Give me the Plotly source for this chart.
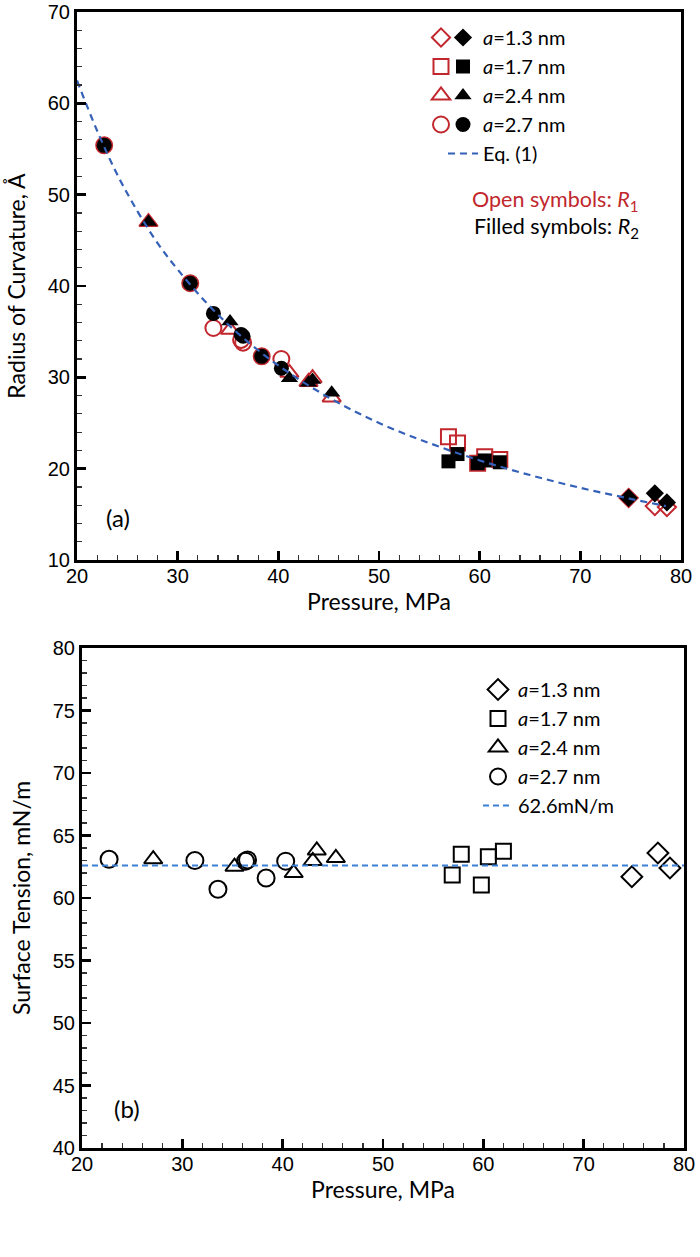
import plotly.graph_objects as go

# ---------------- data ----------------
# a = 1.3 nm (diamonds)
P_13 = [74.8, 77.4, 78.6]
R1_13 = [16.8, 15.9, 15.8]
R2_13 = [16.8, 17.3, 16.3]
ST_13 = [61.7, 63.6, 62.4]

# a = 1.7 nm (squares)
P_17 = [56.9, 57.8, 59.8, 60.5, 62.0]
R1_17 = [23.5, 22.8, 20.6, 21.3, 21.0]
R2_17 = [20.8, 21.6, 20.6, 20.9, 20.7]
ST_17 = [61.85, 63.5, 61.05, 63.3, 63.75]

# a = 2.4 nm (triangles)
P_24 = [27.1, 35.2, 41.1, 43.0, 43.4, 45.3]
R1_24 = [47.0, 35.2, 30.5, 29.5, 29.9, 27.8]
R2_24 = [47.0, 36.1, 29.9, 29.4, 29.7, 28.3]
ST_24 = [63.1, 62.5, 62.0, 62.96, 63.8, 63.2]

# a = 2.7 nm (circles)
P_27 = [22.7, 31.25, 33.55, 36.3, 36.5, 38.35, 40.3]
R1_27 = [55.4, 40.3, 35.4, 34.1, 33.8, 32.3, 32.0]
R2_27 = [55.4, 40.3, 37.0, 34.7, 34.5, 32.3, 31.0]
ST_27 = [63.1, 63.0, 60.7, 62.95, 63.05, 61.6, 62.95]

# Eq. (1) curve
P_eq = [20, 22, 24, 26, 28, 30, 33, 36, 40, 45, 50, 55, 60, 65, 70, 75, 78.5]
R_eq = [62.5, 57.0, 52.2, 48.2, 44.7, 41.8, 38.0, 34.8, 31.3, 27.8, 25.0, 22.8, 20.9, 19.3, 17.9, 16.7, 15.9]

# mean surface tension line
P_mean = [20, 80]
ST_mean = [62.6, 62.6]

labels = ["<i>a</i>=1.3 nm", "<i>a</i>=1.7 nm", "<i>a</i>=2.4 nm", "<i>a</i>=2.7 nm"]

# ---------------- style ----------------
RED = "#c1272d"
BLUE_A = "#3560b8"
BLUE_B = "#3b80d4"
TICKFONT = dict(family="Liberation Sans Narrow, Liberation Sans, Arial", size=20, color="black")
TITLEFONT = dict(family="Lato, Open Sans, sans-serif", size=23, color="black")
LEGFONT = dict(family="Lato, Open Sans, sans-serif", size=20, color="black")

W, H = 700, 1257
def fx(px):
    return px / W
def fy(py):
    return 1 - py / H

fig = go.Figure()

groups = [
    (P_13, R1_13, R2_13, ST_13, "diamond", 14, 14, 16),
    (P_17, R1_17, R2_17, ST_17, "square", 15, 14, 15),
    (P_24, R1_24, R2_24, ST_24, "triangle-up", 16, 15, 16),
    (P_27, R1_27, R2_27, ST_27, "circle", 16, 15, 17),
]

# top panel: open (R1) and filled (R2)
for (P, R1, R2, ST, sym, s_open, s_fill, s_b), lab in zip(groups, labels):
    fig.add_trace(go.Scatter(
        x=P, y=R1, mode="markers", name=" ",
        marker=dict(symbol=sym + "-open", size=s_open, color=RED, line=dict(width=2, color=RED)),
        xaxis="x", yaxis="y", legend="legend", showlegend=True))
for (P, R1, R2, ST, sym, s_open, s_fill, s_b), lab in zip(groups, labels):
    fig.add_trace(go.Scatter(
        x=P, y=R2, mode="markers", name=lab,
        marker=dict(symbol=sym, size=s_fill, color="black", line=dict(width=0)),
        xaxis="x", yaxis="y", legend="legend2", showlegend=True))

fig.add_trace(go.Scatter(
    x=P_eq, y=R_eq, mode="lines", name="Eq. (1)", line_shape="spline",
    line=dict(color=BLUE_A, width=2.2, dash="7px,5px"),
    xaxis="x", yaxis="y", legend="legend2"))

# bottom panel
for (P, R1, R2, ST, sym, s_open, s_fill, s_b), lab in zip(groups, labels):
    fig.add_trace(go.Scatter(
        x=P, y=ST, mode="markers", name=lab,
        marker=dict(symbol=sym + "-open", size=s_b, color="black", line=dict(width=2, color="black")),
        xaxis="x2", yaxis="y2", legend="legend3"))
fig.add_trace(go.Scatter(
    x=P_mean, y=ST_mean, mode="lines", name="62.6mN/m",
    line=dict(color=BLUE_B, width=2, dash="6px,4px"),
    xaxis="x2", yaxis="y2", legend="legend3"))


def axis(rng, dtick, mdtick, domain, anchor, title=None, standoff=0, side=None,
         overlaying=None, labels=True, lab_off=0):
    d = dict(
        range=rng, domain=domain, anchor=anchor, dtick=dtick, tick0=rng[0],
        ticks="inside", ticklen=9, tickwidth=2.5, tickcolor="black",
        showline=True, linewidth=3, linecolor="black", mirror=True,
        showgrid=False, zeroline=False, tickfont=TICKFONT, automargin=False,
        showticklabels=labels, fixedrange=True, ticklabelstandoff=lab_off,
        minor=dict(dtick=mdtick, tick0=rng[0], ticks="inside", ticklen=5, tickwidth=1.2,
                   tickcolor="#333", showgrid=False),
    )
    if title:
        d["title"] = dict(text=title, font=TITLEFONT, standoff=standoff)
    if side:
        d["side"] = side
    if overlaying:
        d["overlaying"] = overlaying
    return d

top_x = [fx(77), fx(681)]
top_y = [fy(560), fy(12)]
bot_x = [fx(82), fx(684)]
bot_y = [fy(1148), fy(648)]

fig.update_layout(
    width=W, height=H,
    margin=dict(l=0, r=0, t=0, b=0, autoexpand=False),
    paper_bgcolor="white", plot_bgcolor="white",
    xaxis=axis([20, 80], 10, 2, top_x, "y", "Pressure, MPa", 6, lab_off=-4),
    yaxis=axis([10, 70], 10, 2, top_y, "x", "Radius of Curvature, Å", 16),
    xaxis2=axis([20, 80], 10, 2, bot_x, "y2", "Pressure, MPa", 4, lab_off=-4),
    yaxis2=axis([40, 80], 5, 1, bot_y, "x2", "Surface Tension, mN/m", 16),
    # mirrored tick axes (top / right)
    xaxis3=axis([20, 80], 10, 2, top_x, "y", side="top", overlaying="x", labels=False),
    yaxis3=axis([10, 70], 10, 2, top_y, "x", side="right", overlaying="y", labels=False),
    xaxis4=axis([20, 80], 10, 2, bot_x, "y2", side="top", overlaying="x2", labels=False),
    yaxis4=axis([40, 80], 5, 1, bot_y, "x2", side="right", overlaying="y2", labels=False),
    legend=dict(x=fx(421), y=fy(18), xanchor="left", yanchor="top", bgcolor="rgba(0,0,0,0)",
                font=LEGFONT, itemwidth=30, tracegroupgap=0),
    legend2=dict(x=fx(443), y=fy(18), xanchor="left", yanchor="top", bgcolor="rgba(0,0,0,0)",
                 font=LEGFONT, itemwidth=30, tracegroupgap=0),
    legend3=dict(x=fx(478), y=fy(670), xanchor="left", yanchor="top", bgcolor="rgba(0,0,0,0)",
                 font=LEGFONT, itemwidth=30, tracegroupgap=0),
    showlegend=True,
    annotations=[
        dict(text="(a)", x=24.1, y=14.7, xref="x", yref="y", showarrow=False,
             font=dict(family="Lato, Open Sans", size=24, color="black")),
        dict(text="(b)", x=24.5, y=43.2, xref="x2", yref="y2", showarrow=False,
             font=dict(family="Lato, Open Sans", size=24, color="black")),
        dict(text="Open symbols: <i>R</i><sub>1</sub>", x=76.0, y=49.4, xref="x", yref="y",
             xanchor="right", showarrow=False, font=dict(family="Lato, Open Sans", size=21.5, color=RED)),
        dict(text="Filled symbols: <i>R</i><sub>2</sub>", x=76.0, y=46.4, xref="x", yref="y",
             xanchor="right", showarrow=False, font=dict(family="Lato, Open Sans", size=21.5, color="black")),
    ],
)

fig.write_html(
    "out.html",
    config={"displayModeBar": False, "staticPlot": True},
    post_script="document.body.style.margin='0';document.body.style.overflow='hidden';",
)
